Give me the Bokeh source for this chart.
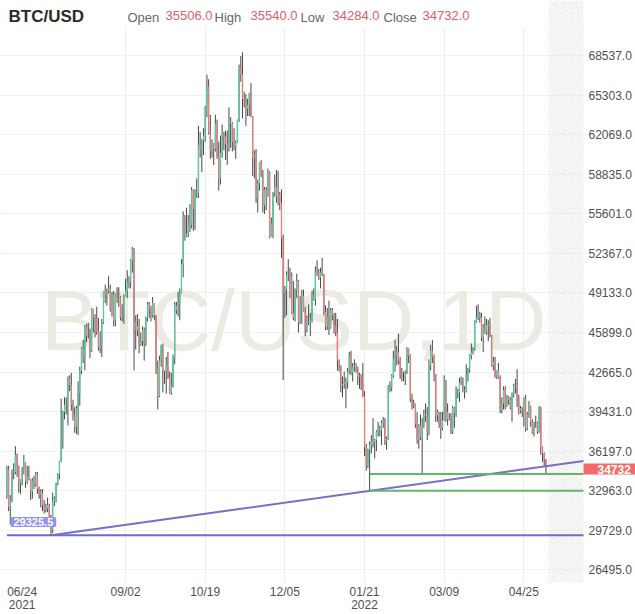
import numpy as np
import pandas as pd
from bokeh.plotting import figure
from bokeh.models import (Range1d, FixedTicker, PrintfTickFormatter, Label,
                          BoxAnnotation, ColumnDataSource)
from bokeh.embed import file_html
from bokeh.resources import INLINE

# ---------------- data ----------------
symbol = "BTC/USD"
watermark = "BTC/USD,1D"
start_date = "2021-06-24"
first_open = 32500

close_jun = [34700, 31600, 32200, 34600, 34500, 35900, 35000]
high_jun = [35000, 35000, 32600, 34700, 35200, 36600, 36000]
low_jun = [32300, 31300, 30200, 32000, 33900, 34300, 34100]

close_jul = [33600, 33900, 34700, 35300, 33700, 34200, 33900, 32900, 33800, 33500, 34300, 33100, 32700, 32800, 31800, 31400,
             31500, 31800, 30800, 29800, 32100, 32300, 33600, 34300, 35400, 37300, 39400, 40000, 40000, 42200, 41600]
high_jul = [35000, 33900, 34900, 35900, 35300, 35000, 35000, 33900, 34000, 34200, 34500, 34500, 33300, 33100, 33100, 32200,
            31900, 32400, 31900, 31000, 32800, 32500, 33600, 34400, 35400, 40500, 39500, 40600, 40600, 42300, 42400]
low_jul = [32800, 32700, 33400, 34300, 33200, 33500, 33800, 32200, 32300, 33100, 33300, 32700, 32300, 31600, 31300, 31100,
           31200, 31200, 30500, 29300, 29500, 31700, 32000, 33400, 33900, 35300, 36400, 38800, 39200, 38300, 41100]

close_aug = [40000, 39200, 38200, 39700, 40900, 42800, 44600, 43800, 46400, 45600, 45600, 44400, 47800, 47100, 47100, 46000,
             44700, 44800, 46700, 49300, 48900, 49300, 49500, 47700, 49000, 46900, 49100, 48900, 48800, 47100, 47200]
high_aug = [42600, 40400, 39800, 39900, 41900, 43100, 44700, 45300, 46500, 46600, 46700, 46200, 47900, 47800, 47400, 48000,
            47100, 46000, 47000, 49300, 49800, 49500, 50500, 49800, 49200, 49300, 49100, 49600, 49600, 48900, 48200]
low_aug = [39500, 38700, 37700, 37600, 37500, 39900, 42500, 43400, 42800, 45100, 45400, 43800, 44300, 45900, 45500, 45700,
           44400, 44200, 43900, 46600, 48300, 48100, 49100, 47600, 47200, 46400, 46400, 48300, 48000, 46900, 46800]

close_sep = [48800, 49300, 50000, 50000, 51800, 52700, 46800, 46100, 46400, 44900, 45200, 46100, 45000, 47100, 48200, 47800,
             47300, 48300, 47300, 43000, 40700, 43600, 44900, 42800, 42700, 43200, 42200, 41000, 41500, 43800]
high_sep = [49000, 50300, 51000, 50500, 51900, 52900, 52800, 47300, 47400, 47000, 45900, 46400, 46300, 47200, 48400, 48400,
            48100, 48800, 48300, 47300, 43600, 44000, 44900, 45000, 42800, 43900, 44300, 42700, 42600, 44100]
low_sep = [46600, 48800, 48700, 49500, 49500, 50800, 42800, 44500, 45600, 44200, 44800, 44800, 43600, 44800, 46800, 47100,
           46800, 47100, 46900, 42500, 39600, 40600, 43100, 41000, 41700, 40900, 42100, 40900, 40800, 41400]

close_oct = [48100, 47700, 48200, 49100, 51500, 55400, 53800, 54000, 55000, 54700, 57500, 56000, 57400, 57300, 61200, 60900,
             61600, 62000, 64300, 66000, 62200, 60700, 61400, 60900, 63000, 60400, 58500, 60600, 62200, 61900, 61300]
high_oct = [48400, 48400, 49200, 49500, 51900, 55800, 55500, 56100, 55500, 56400, 57800, 57600, 57600, 58500, 62800, 62300,
            61700, 62600, 64400, 67000, 66600, 63700, 61700, 61400, 63700, 63300, 61500, 62000, 62900, 62300, 62400]
low_oct = [43300, 47400, 47200, 46900, 49100, 50400, 53400, 53700, 53700, 54100, 54400, 54200, 54300, 56900, 56900, 60200,
           59000, 60400, 61500, 63500, 62100, 60100, 60200, 59600, 60700, 60100, 57500, 58000, 60200, 60800, 60000]

close_nov = [61000, 63200, 63000, 61500, 61100, 61500, 63300, 67600, 67000, 65000, 65000, 64200, 64500, 65500, 63600, 60200,
             60400, 56900, 58100, 59800, 58800, 56300, 57600, 57000, 59000, 53700, 54800, 57300, 57800, 57000]
high_nov = [62400, 64300, 63500, 63100, 62600, 61600, 63300, 67800, 68500, 68800, 65600, 65400, 65000, 65500, 66300, 63600,
            60800, 60900, 58400, 59800, 60000, 59200, 57800, 57800, 59300, 59100, 55300, 57400, 58800, 59200]
low_nov = [59600, 60700, 61000, 60700, 60800, 60100, 61400, 63100, 66400, 63400, 64300, 62800, 63600, 63600, 63500, 58700,
           58500, 56500, 55700, 57500, 58600, 55700, 55600, 55900, 57000, 53600, 53700, 53600, 57000, 56500]

close_dec = [57200, 56500, 53600, 49200, 49400, 50600, 50600, 50500, 47500, 47100, 49400, 50100, 46700, 48300, 48900, 47600,
             46100, 46800, 46700, 46900, 49000, 48600, 50800, 50800, 50400, 50800, 50600, 47600, 46400, 47200, 46300]
high_dec = [59100, 57400, 57600, 53900, 49700, 50900, 51900, 51200, 50800, 50100, 49500, 50700, 50200, 48900, 49400, 49400,
            48000, 47300, 48200, 47500, 49300, 49500, 51300, 51800, 51100, 51200, 52000, 50700, 48100, 47900, 48500]
low_dec = [56300, 55900, 52000, 42000, 47100, 47300, 50100, 48700, 47400, 46900, 46800, 48700, 45900, 46600, 46600, 47600,
           45600, 45900, 46500, 45600, 46700, 48500, 48100, 50500, 50200, 49500, 50500, 47300, 46100, 46100, 45700]

close_jan = [47700, 47300, 46500, 45900, 43600, 43200, 41600, 41700, 41900, 41800, 42700, 44000, 42600, 43100, 43200, 43100,
             42300, 42400, 41700, 40700, 36500, 35000, 36300, 36700, 37000, 36900, 37100, 37800, 38100, 37900, 38500]
high_jan = [47900, 47900, 47500, 47500, 47000, 43700, 43200, 42300, 42700, 42200, 43000, 44300, 44400, 43400, 43700, 43400,
            43100, 42600, 42500, 43400, 41100, 36800, 36400, 37000, 37500, 38900, 37200, 37900, 38600, 38300, 38700]
low_jan = [46200, 46900, 45800, 45600, 42800, 42700, 41000, 40600, 41300, 39700, 41300, 42500, 42400, 41900, 42700, 42600,
           41600, 41300, 41200, 40600, 35800, 34600, 34800, 32950, 36000, 36500, 35600, 36200, 37400, 37400, 36700]

close_feb = [38700, 37000, 37200, 41500, 41400, 42400, 43800, 44100, 44300, 43600, 42400, 42200, 42200, 42600, 44600, 44000,
             40500, 40000, 40100, 38400, 37100, 38300, 37300, 38300, 39200, 39100, 37700, 43200]
high_feb = [39000, 38900, 37400, 41600, 41900, 42500, 44400, 45300, 44800, 45800, 43900, 43000, 42700, 42800, 44700, 44600,
            44100, 40900, 40400, 40100, 39400, 38400, 39200, 38900, 39600, 40100, 39800, 43700]
low_feb = [38100, 36700, 36300, 37100, 41000, 41100, 42200, 42700, 43200, 43300, 42100, 41900, 41900, 41600, 42500, 43400,
           40200, 39600, 39700, 38100, 36800, 36400, 37100, 34320, 38100, 38600, 37100, 37500]

close_mar = [44400, 43900, 42500, 39100, 39400, 38400, 38100, 38700, 42000, 39400, 38800, 38900, 37800, 39700, 39300, 41100,
             41000, 41800, 42200, 41200, 41100, 42400, 42900, 44000, 44300, 44500, 46800, 47100, 47500, 47100, 45500]
high_mar = [44900, 45300, 44100, 42500, 39600, 39400, 39400, 39400, 42400, 42000, 40100, 39300, 39300, 39900, 39800, 41500,
            41300, 42200, 42300, 42200, 41500, 43300, 43000, 44100, 45000, 44700, 46900, 48100, 48200, 47600, 47500]
low_mar = [42800, 43400, 41900, 38600, 38600, 38100, 37200, 37900, 38700, 38600, 38300, 38700, 37600, 37600, 38100, 39000,
           40500, 40200, 41600, 41000, 40500, 41000, 41900, 42600, 43700, 44100, 44400, 46700, 46900, 46700, 45200]

close_apr = [46300, 45900, 46500, 46600, 45600, 43200, 43500, 42300, 42800, 42200, 39500, 40100, 41200, 39900, 40600, 40400,
             39700, 40800, 41500, 41400, 40500, 39700, 39500, 39500, 40500, 38100, 39200, 39800, 38600, 37700]
high_apr = [46600, 47200, 47000, 46900, 47100, 45700, 43900, 43900, 42800, 43400, 42400, 40600, 41500, 41500, 40800, 40700,
            40600, 41000, 41700, 42100, 42900, 40800, 39900, 39800, 40600, 40800, 39400, 40300, 39900, 38800]
low_apr = [44300, 45800, 45700, 45200, 45500, 43100, 42800, 42200, 42100, 42100, 39300, 39300, 39600, 39600, 39800, 40000,
           39600, 38600, 40600, 40900, 39800, 39200, 39300, 39000, 38200, 37800, 37900, 38900, 38200, 37600]

close_may = [38500, 38500, 37800, 39700, 36600, 36000, 35506, 34732]
high_may = [38600, 39100, 38600, 39900, 39800, 36600, 36100, 35540]
low_may = [37400, 38100, 37600, 37700, 35900, 35300, 35000, 34284]

close = (close_jun + close_jul + close_aug + close_sep + close_oct + close_nov + close_dec
         + close_jan + close_feb + close_mar + close_apr + close_may)
high = (high_jun + high_jul + high_aug + high_sep + high_oct + high_nov + high_dec
        + high_jan + high_feb + high_mar + high_apr + high_may)
low = (low_jun + low_jul + low_aug + low_sep + low_oct + low_nov + low_dec
       + low_jan + low_feb + low_mar + low_apr + low_may)

x_tick_dates = ["2021-09-02", "2021-10-19", "2021-12-05", "2022-01-21", "2022-03-09", "2022-04-25"]
x_tick_labels = ["09/02", "10/19", "12/05", "01/21\n2022", "03/09", "04/25"]
first_tick_label = "06/24\n2021"
y_ticks = [26495, 29729, 32963, 36197, 39431, 42665, 45899, 49133, 52367, 55601, 58835, 62069, 65303, 68537]

header_names = ["Open", "High", "Low", "Close"]
header_values = [35506.0, 35540.0, 34284.0, 34732.0]
last_price = 34732
base_level = 29325.5
trend_dates = ["2021-07-20", "2022-01-24"]
trend_values = [29325.5, 32950]
support_start = "2022-01-24"
support_levels = [34320, 32950]

# ---------------- layout / style ----------------
CW, FH = 635, 582          # frame spans the whole canvas width; price scale drawn inside
PLOT_RIGHT = 583           # right edge of the price area (px)
PX_PER_DAY = 1.695
X0 = -6.4 / PX_PER_DAY
X1 = X0 + CW / PX_PER_DAY
Y0, Y1 = 25457, 73044
FONT = "Liberation Sans"
GREEN = "#4ccfa3"
RED = "#e67c7c"
WICK = "#474747"


def px2x(px):
    return X0 + px / PX_PER_DAY


def px2y(py):
    return Y1 - py * (Y1 - Y0) / FH


t0 = pd.Timestamp(start_date)


def day_of(d):
    return (pd.Timestamp(d) - t0).days


XR = px2x(PLOT_RIGHT)

n = len(close)
idx = np.arange(n)
opens = np.array([first_open] + close[:-1], dtype=float)
cl = np.array(close, dtype=float)
colors = np.where(cl >= opens, GREEN, RED)
src = ColumnDataSource(dict(x=idx, o=opens, h=high, l=low, c=cl, color=colors,
                            bt=np.maximum(opens, cl), bb=np.minimum(opens, cl)))

p = figure(frame_width=CW, frame_height=FH, x_range=Range1d(X0, X1), y_range=Range1d(Y0, Y1),
           y_axis_location="right", output_backend="svg", toolbar_location=None,
           min_border_left=0, min_border_right=0, min_border_top=0, min_border_bottom=32)
p.outline_line_color = None
p.background_fill_color = "white"
p.border_fill_color = "white"

# axes
tick_pos = [day_of(d) for d in x_tick_dates]
first_label_pos = 9  # first label is left-aligned to the chart edge
p.xaxis.ticker = FixedTicker(ticks=[first_label_pos] + tick_pos)
overrides = {first_label_pos: first_tick_label}
overrides.update({t: lab for t, lab in zip(tick_pos, x_tick_labels)})
p.xaxis.major_label_overrides = overrides
p.xaxis.axis_line_color = None
p.xaxis.major_tick_line_color = None
p.xaxis.minor_tick_line_color = None
p.xaxis.major_label_text_font = FONT
p.xaxis.major_label_text_font_size = "12px"
p.xaxis.major_label_text_color = "#505050"
p.xaxis.major_label_standoff = -4
p.xaxis.major_label_text_line_height = 0.95

p.yaxis.ticker = FixedTicker(ticks=y_ticks)
p.yaxis.formatter = PrintfTickFormatter(format="%.1f")
p.yaxis.axis_line_color = None
p.yaxis.major_tick_line_color = None
p.yaxis.minor_tick_line_color = None
p.yaxis.major_tick_out = 0
p.yaxis.minor_tick_out = 0
p.yaxis.major_label_text_font = FONT
p.yaxis.major_label_text_font_size = "12px"
p.yaxis.major_label_text_color = "#505050"
p.yaxis.major_label_standoff = -(CW - PLOT_RIGHT - 5)

p.xgrid.ticker = FixedTicker(ticks=tick_pos)
p.xgrid.grid_line_color = "#ececec"
p.ygrid.grid_line_color = "#f1f1f1"

# price-scale strip (no grid under the labels)
p.add_layout(BoxAnnotation(left=XR, fill_color="white", fill_alpha=1, line_color=None, level="underlay"))
# future (hatched) area
p.add_layout(BoxAnnotation(left=px2x(548), right=XR, fill_alpha=0, line_color=None,
                           hatch_pattern="/", hatch_color="#dedede", hatch_scale=5,
                           hatch_weight=0.8, level="underlay"))

# watermark
p.add_layout(Label(x=px2x(293.5), y=px2y(320), text=watermark, text_align="center",
                   text_baseline="alphabetic", text_font=FONT, text_font_size="85px",
                   text_color="#ebebe3", level="underlay"))

# bars
p.segment(x0="x", y0="l", x1="x", y1="h", source=src, line_color=WICK, line_width=1)
p.segment(x0="x", y0="bb", x1="x", y1="bt", source=src, line_color="color", line_width=1.3)

# drawn lines
p.line([0, XR], [base_level, base_level], line_color="#6c6cd6", line_width=2)
ti0, ti1 = day_of(trend_dates[0]), day_of(trend_dates[1])
slope = (trend_values[1] - trend_values[0]) / (ti1 - ti0)
p.line([ti0, XR], [trend_values[0], trend_values[0] + slope * (XR - ti0)],
       line_color="#7670c8", line_width=2)
s0 = day_of(support_start)
p.segment(x0=[s0] * len(support_levels), y0=support_levels, x1=[XR] * len(support_levels),
          y1=support_levels, line_color="#66b566", line_width=2)

# header
p.add_layout(BoxAnnotation(bottom=px2y(27), right=px2x(548), fill_color="white", fill_alpha=1,
                           line_color=None))
p.add_layout(Label(x=px2x(8), y=px2y(16), text=symbol, text_font=FONT, text_font_size="17px",
                   text_font_style="bold", text_color="#2b2b2b", text_baseline="middle"))
name_px = [127, 214, 300, 383]
val_px = [165, 250, 332, 422]
for nm, v, nx, vx in zip(header_names, header_values, name_px, val_px):
    p.add_layout(Label(x=px2x(nx), y=px2y(17), text=nm, text_font=FONT, text_font_size="13px",
                       text_color="#666666", text_baseline="middle"))
    p.add_layout(Label(x=px2x(vx), y=px2y(15), text=f"{v:.1f}", text_font=FONT, text_font_size="13px",
                       text_color="#d9616b", text_baseline="middle"))

# price tags
p.add_layout(Label(x=px2x(10), y=px2y(521.5), text=f"{base_level:.1f}", text_font=FONT,
                   text_font_size="11px", text_font_style="bold", text_color="white",
                   text_baseline="middle", background_fill_color="#9392f0",
                   padding=(3, 1), border_radius=2))
p.add_layout(Label(x=px2x(PLOT_RIGHT), y=last_price, text=f"{last_price}", text_font=FONT,
                   text_font_size="12px", text_font_style="bold", text_color="white",
                   text_baseline="middle", background_fill_color="#f26b6b",
                   padding=(14, 1)))

open("out.html", "w").write(file_html(p, INLINE))
